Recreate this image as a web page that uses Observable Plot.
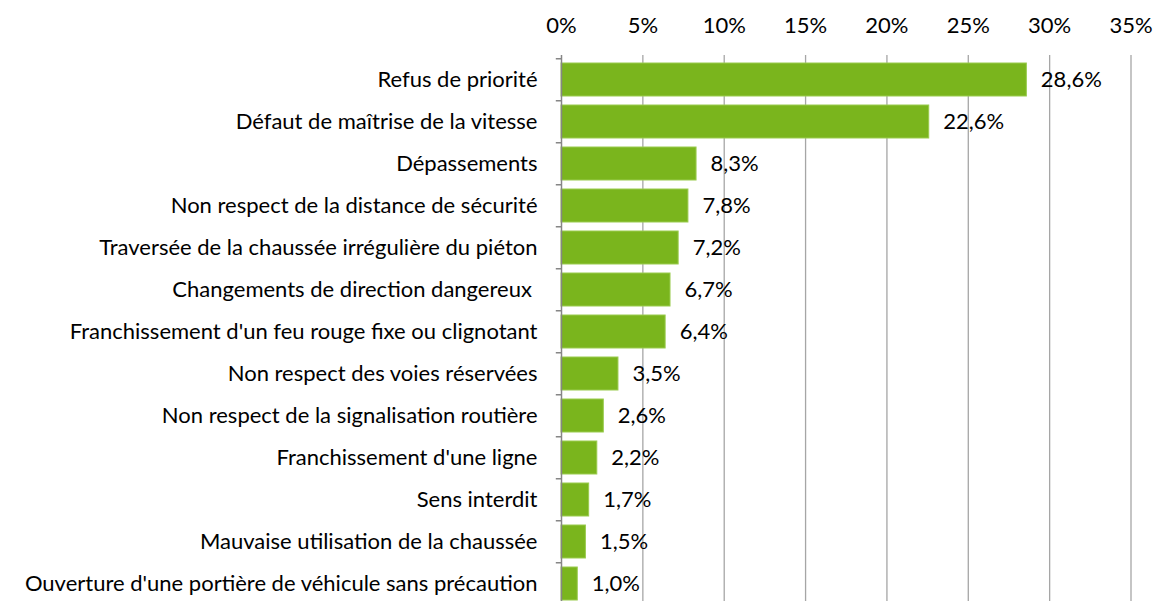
<!DOCTYPE html>
<html>
<head>
<meta charset="utf-8">
<script src="https://cdn.jsdelivr.net/npm/d3@7"></script>
<script src="https://cdn.jsdelivr.net/npm/@observablehq/plot@0.6"></script>
<style>
  html, body { margin: 0; padding: 0; background: #fff; overflow: hidden; }
</style>
</head>
<body>
<div id="chart"></div>
<script>
const categories = [
  "Refus de priorité",
  "Défaut de maîtrise de la vitesse",
  "Dépassements",
  "Non respect de la distance de sécurité",
  "Traversée de la chaussée irrégulière du piéton",
  "Changements de direction dangereux ",
  "Franchissement d'un feu rouge fixe ou clignotant",
  "Non respect des voies réservées",
  "Non respect de la signalisation routière",
  "Franchissement d'une ligne",
  "Sens interdit",
  "Mauvaise utilisation de la chaussée",
  "Ouverture d'une portière de véhicule sans précaution"
];
const values = [28.6, 22.6, 8.3, 7.8, 7.2, 6.7, 6.4, 3.5, 2.6, 2.2, 1.7, 1.5, 1.0];
const xTicks = [0, 5, 10, 15, 20, 25, 30, 35];

const data = categories.map((c, i) => ({cat: c, value: values[i]}));
const fmt = v => v.toFixed(1).replace(".", ",") + "%";

const chart = Plot.plot({
  width: 1156,
  height: 601,
  marginLeft: 561,
  marginRight: 25,
  marginTop: 55,
  marginBottom: 0,
  style: {fontFamily: "Lato, 'Liberation Sans', sans-serif", fontSize: "22px", color: "#000", background: "#fff"},
  x: {domain: [0, 35], range: [561, 1130.5], axis: null},
  y: {domain: categories, range: [55.3, 607.5], paddingInner: 0.22, paddingOuter: 0.11, axis: null},
  marks: [
    Plot.ruleX(xTicks.slice(1), {stroke: "#a6a6a6", strokeWidth: 1.3}),
    Plot.barX(data, {x: "value", y: "cat", fill: "#7ab51d", stroke: "#9acb4f", strokeWidth: 1}),
    Plot.ruleX([0], {stroke: "#868686", strokeWidth: 1.5}),
    Plot.ruleY(categories, {y: d => d, x1: -0.32, x2: 0, dy: -21.24, stroke: "#868686", strokeWidth: 1.5}),
    Plot.text(data, {x: "value", y: "cat", text: d => fmt(d.value), textAnchor: "start", dx: 14, fill: "#000"}),
    Plot.axisX(xTicks, {anchor: "top", tickSize: 0, tickPadding: 23, tickFormat: d => d + "%", label: null, fill: "#000"}),
    Plot.axisY({anchor: "left", tickSize: 0, tickPadding: 24, label: null, fill: "#000"})
  ]
});
document.getElementById("chart").appendChild(chart);
</script>
</body>
</html>
